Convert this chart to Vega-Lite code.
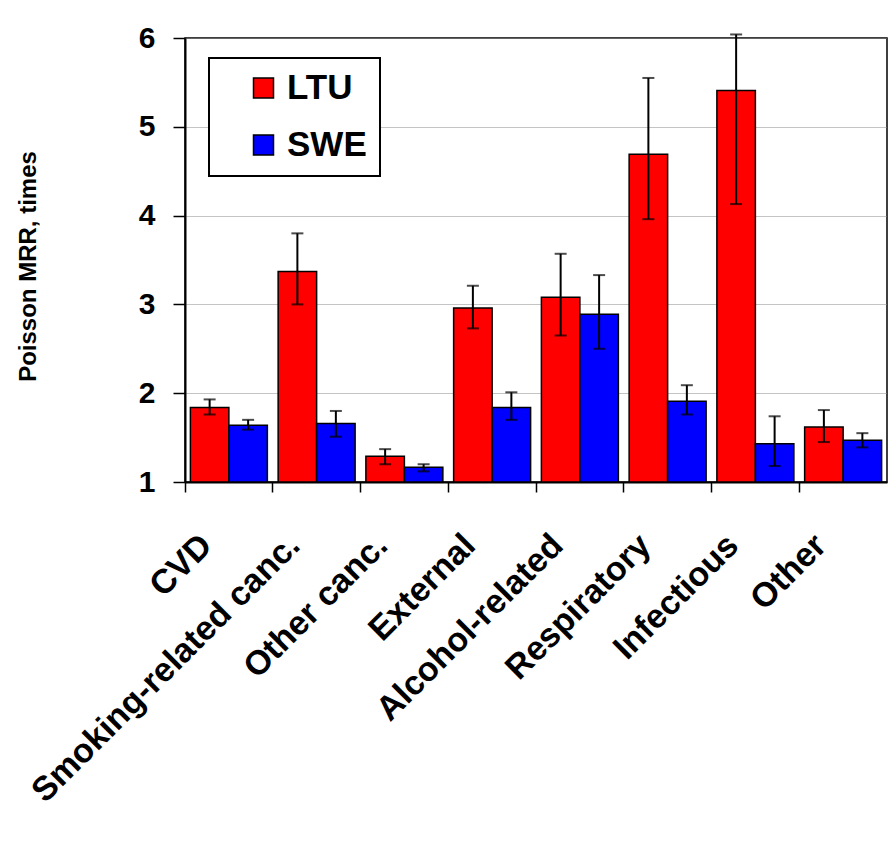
{
  "$schema": "https://vega.github.io/schema/vega-lite/v6.json",
  "width": 702,
  "height": 444,
  "autosize": {"type": "none"},
  "padding": {"left": 185, "top": 38, "right": 5, "bottom": 366},
  "background": "white",
  "config": {"font": "Liberation Sans", "view": {"stroke": "black", "strokeWidth": 1.5}, "legend": {"strokeWidth": 2}},
  "data": {
    "values": [
      {"cause": "CVD", "country": "LTU", "mrr": 1.84, "lo": 1.76, "hi": 1.93},
      {"cause": "CVD", "country": "SWE", "mrr": 1.64, "lo": 1.59, "hi": 1.70},
      {"cause": "Smoking-related canc.", "country": "LTU", "mrr": 3.37, "lo": 3.00, "hi": 3.80},
      {"cause": "Smoking-related canc.", "country": "SWE", "mrr": 1.66, "lo": 1.51, "hi": 1.80},
      {"cause": "Other canc.", "country": "LTU", "mrr": 1.29, "lo": 1.20, "hi": 1.37},
      {"cause": "Other canc.", "country": "SWE", "mrr": 1.165, "lo": 1.12, "hi": 1.20},
      {"cause": "External", "country": "LTU", "mrr": 2.96, "lo": 2.73, "hi": 3.21},
      {"cause": "External", "country": "SWE", "mrr": 1.84, "lo": 1.70, "hi": 2.01},
      {"cause": "Alcohol-related", "country": "LTU", "mrr": 3.08, "lo": 2.65, "hi": 3.57},
      {"cause": "Alcohol-related", "country": "SWE", "mrr": 2.89, "lo": 2.50, "hi": 3.33},
      {"cause": "Respiratory", "country": "LTU", "mrr": 4.69, "lo": 3.96, "hi": 5.55},
      {"cause": "Respiratory", "country": "SWE", "mrr": 1.91, "lo": 1.76, "hi": 2.09},
      {"cause": "Infectious", "country": "LTU", "mrr": 5.41, "lo": 4.13, "hi": 6.04},
      {"cause": "Infectious", "country": "SWE", "mrr": 1.43, "lo": 1.18, "hi": 1.74},
      {"cause": "Other", "country": "LTU", "mrr": 1.62, "lo": 1.45, "hi": 1.81},
      {"cause": "Other", "country": "SWE", "mrr": 1.47, "lo": 1.39, "hi": 1.55}
    ]
  },
  "encoding": {
    "x": {
      "field": "cause", "type": "nominal", "sort": null,
      "scale": {"paddingInner": 0, "paddingOuter": 0},
      "axis": {
        "title": null, "bandPosition": 0,
        "labelAngle": -45, "labelAlign": "right", "labelBaseline": "middle",
        "labelFontSize": 34, "labelFontWeight": "bold", "labelColor": "black",
        "labelPadding": 48, "labelOffset": -22, "labelLimit": 600, "labelOverlap": false,
        "tickSize": 10, "tickColor": "black", "tickWidth": 1.5,
        "domainColor": "black", "domainWidth": 2
      }
    },
    "xOffset": {"field": "country", "type": "nominal", "scale": {"paddingOuter": 0.14, "paddingInner": 0}}
  },
  "layer": [
    {
      "mark": {"type": "bar", "stroke": "black", "strokeWidth": 1.5},
      "encoding": {
        "y": {
          "field": "mrr", "type": "quantitative",
          "scale": {"domain": [1, 6], "nice": false, "zero": false},
          "axis": {
            "values": [1, 2, 3, 4, 5, 6], "format": "d",
            "title": "Poisson MRR, times", "titleFontSize": 24, "titleFontWeight": "bold", "titleColor": "black",
            "titleX": -157, "titleY": 228, "titleAngle": -90, "titleBaseline": "middle", "titleAlign": "center",
            "labelFontSize": 30, "labelFontWeight": "bold", "labelColor": "black", "labelPadding": 18,
            "tickSize": 12, "tickColor": "black", "tickWidth": 1.5,
            "domainColor": "black", "domainWidth": 2,
            "grid": true, "gridColor": "#888888", "gridDash": [1, 1], "gridWidth": 1
          }
        },
        "y2": {"datum": 1},
        "color": {
          "field": "country", "type": "nominal",
          "scale": {"domain": ["LTU", "SWE"], "range": ["#ff0000", "#0000ff"]},
          "legend": {
            "orient": "none", "legendX": 24, "legendY": 20, "title": null,
            "strokeColor": "black", "fillColor": "white", "padding": 12.5,
            "symbolType": "square", "symbolSize": 400, "symbolStrokeColor": "black", "symbolStrokeWidth": 1.5,
            "symbolOffset": 24.5, "labelFontSize": 35, "labelFontWeight": "bold", "labelColor": "black",
            "labelOffset": 6, "rowPadding": 21, "labelExpr": "datum.label + '\u00a0\u00a0'"
          }
        }
      }
    },
    {
      "mark": {"type": "rule", "color": "black", "strokeWidth": 2},
      "encoding": {"y": {"field": "lo", "type": "quantitative"}, "y2": {"field": "hi"}}
    },
    {
      "mark": {"type": "tick", "color": "black", "thickness": 2, "size": 12},
      "encoding": {"y": {"field": "lo", "type": "quantitative"}}
    },
    {
      "mark": {"type": "tick", "color": "black", "thickness": 2, "size": 12},
      "encoding": {"y": {"field": "hi", "type": "quantitative"}}
    }
  ]
}
